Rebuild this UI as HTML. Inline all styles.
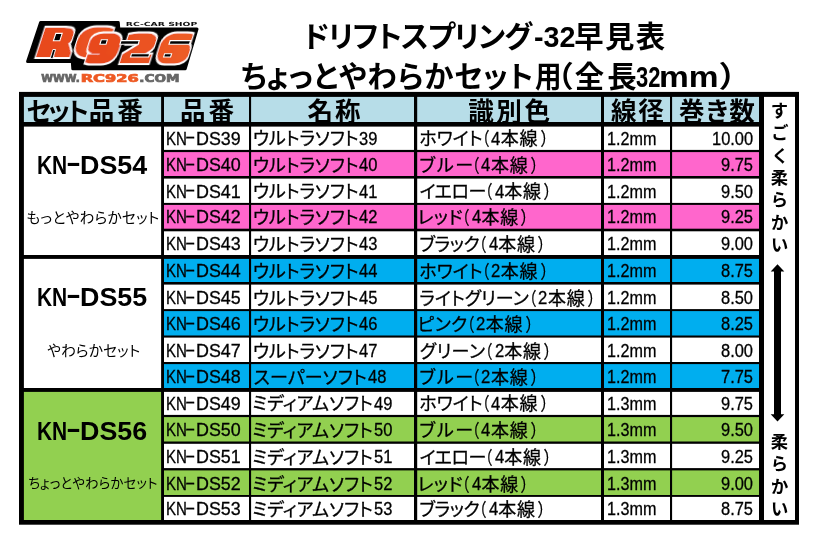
<!DOCTYPE html>
<html lang="ja"><head><meta charset="utf-8"><title>ドリフトスプリング-32早見表</title>
<style>
html,body{margin:0;padding:0;background:#fff;}
body{width:816px;height:542px;position:relative;overflow:hidden;font-family:"Liberation Sans","Noto Sans CJK JP",sans-serif;color:#000;font-feature-settings:"palt";}
.b{position:absolute;}
.t{position:absolute;white-space:nowrap;transform-origin:0 0;}
.h{font-weight:700;font-size:25.6px;line-height:30px;}
.c{font-size:18px;line-height:24px;-webkit-text-stroke:0.3px #000;}
.sn{font-weight:700;font-size:25.5px;line-height:30px;}
.ss{font-size:14.67px;line-height:18px;}
.s3{font-size:13.33px;line-height:18px;}
.sd{font-size:17.3px;line-height:22px;font-weight:700;}
.ti{font-weight:700;font-size:29.4px;line-height:40px;}
#tx{position:absolute;left:0;top:0;width:816px;height:542px;will-change:transform;}
</style></head><body>
<svg class="b" style="left:0;top:0" width="816" height="542" viewBox="0 0 816 542">
<rect x="19" y="91.9" width="780.00" height="432.80" fill="#000"/>
<rect x="23.9" y="96.9" width="137.20" height="25.10" fill="#b7dde8"/>
<rect x="164" y="96.9" width="85.00" height="25.10" fill="#b7dde8"/>
<rect x="251.1" y="96.9" width="162.90" height="25.10" fill="#b7dde8"/>
<rect x="417.2" y="96.9" width="183.80" height="25.10" fill="#b7dde8"/>
<rect x="604" y="96.9" width="66.00" height="25.10" fill="#b7dde8"/>
<rect x="672.1" y="96.9" width="86.90" height="25.10" fill="#b7dde8"/>
<rect x="764" y="96.9" width="31.00" height="423.10" fill="#ffffff"/>
<rect x="23.9" y="126.6" width="137.20" height="128.40" fill="#ffffff"/>
<rect x="23.9" y="258.9" width="137.20" height="129.10" fill="#ffffff"/>
<rect x="23.9" y="391.9" width="137.20" height="128.10" fill="#92d050"/>
<rect x="164" y="126.6" width="85.00" height="23.30" fill="#ffffff"/>
<rect x="251.1" y="126.6" width="162.90" height="23.30" fill="#ffffff"/>
<rect x="417.2" y="126.6" width="183.80" height="23.30" fill="#ffffff"/>
<rect x="604" y="126.6" width="66.00" height="23.30" fill="#ffffff"/>
<rect x="672.1" y="126.6" width="86.90" height="23.30" fill="#ffffff"/>
<rect x="164" y="152.1" width="85.00" height="23.90" fill="#ff66cc"/>
<rect x="251.1" y="152.1" width="162.90" height="23.90" fill="#ff66cc"/>
<rect x="417.2" y="152.1" width="183.80" height="23.90" fill="#ff66cc"/>
<rect x="604" y="152.1" width="66.00" height="23.90" fill="#ff66cc"/>
<rect x="672.1" y="152.1" width="86.90" height="23.90" fill="#ff66cc"/>
<rect x="164" y="178.6" width="85.00" height="24.30" fill="#ffffff"/>
<rect x="251.1" y="178.6" width="162.90" height="24.30" fill="#ffffff"/>
<rect x="417.2" y="178.6" width="183.80" height="24.30" fill="#ffffff"/>
<rect x="604" y="178.6" width="66.00" height="24.30" fill="#ffffff"/>
<rect x="672.1" y="178.6" width="86.90" height="24.30" fill="#ffffff"/>
<rect x="164" y="204.9" width="85.00" height="23.80" fill="#ff66cc"/>
<rect x="251.1" y="204.9" width="162.90" height="23.80" fill="#ff66cc"/>
<rect x="417.2" y="204.9" width="183.80" height="23.80" fill="#ff66cc"/>
<rect x="604" y="204.9" width="66.00" height="23.80" fill="#ff66cc"/>
<rect x="672.1" y="204.9" width="86.90" height="23.80" fill="#ff66cc"/>
<rect x="164" y="231.3" width="85.00" height="23.70" fill="#ffffff"/>
<rect x="251.1" y="231.3" width="162.90" height="23.70" fill="#ffffff"/>
<rect x="417.2" y="231.3" width="183.80" height="23.70" fill="#ffffff"/>
<rect x="604" y="231.3" width="66.00" height="23.70" fill="#ffffff"/>
<rect x="672.1" y="231.3" width="86.90" height="23.70" fill="#ffffff"/>
<rect x="164" y="258.9" width="85.00" height="23.10" fill="#00aeef"/>
<rect x="251.1" y="258.9" width="162.90" height="23.10" fill="#00aeef"/>
<rect x="417.2" y="258.9" width="183.80" height="23.10" fill="#00aeef"/>
<rect x="604" y="258.9" width="66.00" height="23.10" fill="#00aeef"/>
<rect x="672.1" y="258.9" width="86.90" height="23.10" fill="#00aeef"/>
<rect x="164" y="284.6" width="85.00" height="24.50" fill="#ffffff"/>
<rect x="251.1" y="284.6" width="162.90" height="24.50" fill="#ffffff"/>
<rect x="417.2" y="284.6" width="183.80" height="24.50" fill="#ffffff"/>
<rect x="604" y="284.6" width="66.00" height="24.50" fill="#ffffff"/>
<rect x="672.1" y="284.6" width="86.90" height="24.50" fill="#ffffff"/>
<rect x="164" y="311.1" width="85.00" height="24.40" fill="#00aeef"/>
<rect x="251.1" y="311.1" width="162.90" height="24.40" fill="#00aeef"/>
<rect x="417.2" y="311.1" width="183.80" height="24.40" fill="#00aeef"/>
<rect x="604" y="311.1" width="66.00" height="24.40" fill="#00aeef"/>
<rect x="672.1" y="311.1" width="86.90" height="24.40" fill="#00aeef"/>
<rect x="164" y="337.6" width="85.00" height="24.40" fill="#ffffff"/>
<rect x="251.1" y="337.6" width="162.90" height="24.40" fill="#ffffff"/>
<rect x="417.2" y="337.6" width="183.80" height="24.40" fill="#ffffff"/>
<rect x="604" y="337.6" width="66.00" height="24.40" fill="#ffffff"/>
<rect x="672.1" y="337.6" width="86.90" height="24.40" fill="#ffffff"/>
<rect x="164" y="364.1" width="85.00" height="23.90" fill="#00aeef"/>
<rect x="251.1" y="364.1" width="162.90" height="23.90" fill="#00aeef"/>
<rect x="417.2" y="364.1" width="183.80" height="23.90" fill="#00aeef"/>
<rect x="604" y="364.1" width="66.00" height="23.90" fill="#00aeef"/>
<rect x="672.1" y="364.1" width="86.90" height="23.90" fill="#00aeef"/>
<rect x="164" y="391.9" width="85.00" height="23.00" fill="#ffffff"/>
<rect x="251.1" y="391.9" width="162.90" height="23.00" fill="#ffffff"/>
<rect x="417.2" y="391.9" width="183.80" height="23.00" fill="#ffffff"/>
<rect x="604" y="391.9" width="66.00" height="23.00" fill="#ffffff"/>
<rect x="672.1" y="391.9" width="86.90" height="23.00" fill="#ffffff"/>
<rect x="164" y="417.1" width="85.00" height="24.40" fill="#92d050"/>
<rect x="251.1" y="417.1" width="162.90" height="24.40" fill="#92d050"/>
<rect x="417.2" y="417.1" width="183.80" height="24.40" fill="#92d050"/>
<rect x="604" y="417.1" width="66.00" height="24.40" fill="#92d050"/>
<rect x="672.1" y="417.1" width="86.90" height="24.40" fill="#92d050"/>
<rect x="164" y="443.8" width="85.00" height="24.30" fill="#ffffff"/>
<rect x="251.1" y="443.8" width="162.90" height="24.30" fill="#ffffff"/>
<rect x="417.2" y="443.8" width="183.80" height="24.30" fill="#ffffff"/>
<rect x="604" y="443.8" width="66.00" height="24.30" fill="#ffffff"/>
<rect x="672.1" y="443.8" width="86.90" height="24.30" fill="#ffffff"/>
<rect x="164" y="470.4" width="85.00" height="24.60" fill="#92d050"/>
<rect x="251.1" y="470.4" width="162.90" height="24.60" fill="#92d050"/>
<rect x="417.2" y="470.4" width="183.80" height="24.60" fill="#92d050"/>
<rect x="604" y="470.4" width="66.00" height="24.60" fill="#92d050"/>
<rect x="672.1" y="470.4" width="86.90" height="24.60" fill="#92d050"/>
<rect x="164" y="496.9" width="85.00" height="23.10" fill="#ffffff"/>
<rect x="251.1" y="496.9" width="162.90" height="23.10" fill="#ffffff"/>
<rect x="417.2" y="496.9" width="183.80" height="23.10" fill="#ffffff"/>
<rect x="604" y="496.9" width="66.00" height="23.10" fill="#ffffff"/>
<rect x="672.1" y="496.9" width="86.90" height="23.10" fill="#ffffff"/>
<path d="M777.5 264.3 L784.3 271.6 L781 271.6 L781 414.2 L784.3 414.2 L777.5 421.4 L770.7 414.2 L774 414.2 L774 271.6 L770.7 271.6 Z" fill="#000"/>
</svg>
<div id="tx">
<svg class="b" style="left:20px;top:14px" width="190" height="76" viewBox="20 14 190 76">
<defs>
<linearGradient id="og" gradientUnits="userSpaceOnUse" x1="35" y1="62" x2="190" y2="28">
<stop offset="0" stop-color="#e84a1c"/><stop offset="0.5" stop-color="#ee5f28"/><stop offset="1" stop-color="#f7a662"/>
</linearGradient>
<filter id="fat" x="-10%" y="-20%" width="120%" height="140%">
<feMorphology in="SourceGraphic" operator="dilate" radius="3.2 2.2" result="f"/>
<feMorphology in="SourceAlpha" operator="dilate" radius="4.4 3.4" result="o"/>
<feFlood flood-color="#fff" result="w"/>
<feComposite in="w" in2="o" operator="in" result="ow"/>
<feMerge><feMergeNode in="ow"/><feMergeNode in="f"/></feMerge>
</filter>
</defs>
<path d="M40.6 22.5 L118.3 22.5 L118.8 29 L197 29 L185.2 68.8 L72.8 68.8 L72.3 61.5 L27.6 61.5 Z" fill="#000" stroke="#000" stroke-width="3" stroke-linejoin="round"/>
<text x="125.8" y="25.7" font-family="'DejaVu Sans',sans-serif" font-weight="700" font-size="5.6" textLength="71.5" lengthAdjust="spacingAndGlyphs" fill="#111">RC-CAR SHOP</text>
<g font-family="'DejaVu Sans',sans-serif" font-weight="700" font-size="36" fill="url(#og)"><g transform="translate(36.6,55.2) skewX(-18) scale(1.11,1)" filter="url(#fat)"><text x="0" y="0" letter-spacing="6.5">RC</text></g><g transform="translate(85.3,61.3) skewX(-18) scale(1.135,1)" filter="url(#fat)"><text x="0" y="0" letter-spacing="6.2">926</text></g></g>
<g fill="#000" stroke="#fff" stroke-width="1.1" stroke-linejoin="miter"><polygon points="55.8,33.4 62.2,33.4 59.8,40.8 53.4,40.8"/><polygon points="101.3,39.8 107.4,39.8 106.0,44.3 99.9,44.3"/><polygon points="121.1,40.6 139.3,40.6 138.1,44.3 119.9,44.3"/><polygon points="131.5,53.7 149.7,53.7 148.7,57.0 130.5,57.0"/><polygon points="170.2,40.6 190.6,40.6 189.4,44.3 169.0,44.3"/><polygon points="164.6,53.7 171.6,53.7 170.6,57.0 163.6,57.0"/><polygon points="52.9,49.5 55.6,49.5 52.9,58.4 50.2,58.4" stroke-width="0.9"/></g>
<g font-family="'DejaVu Sans',sans-serif" font-weight="700" font-size="9.8" stroke-width="0.7" stroke-linejoin="miter" lengthAdjust="spacingAndGlyphs"><text x="41.3" y="82.2" textLength="38.5" lengthAdjust="spacingAndGlyphs" fill="#666" stroke="#666">WWW.</text><text x="80.7" y="82.2" textLength="58" lengthAdjust="spacingAndGlyphs" fill="#ee5a24" stroke="#ee5a24">RC926</text><text x="139.3" y="82.2" textLength="40.2" lengthAdjust="spacingAndGlyphs" fill="#666" stroke="#666">.COM</text></g>
</svg>

<span class="t h" style="left:26.35px;top:96.62px;letter-spacing:-2.47px;">セット</span><span class="t h" style="left:88.65px;top:96.62px;letter-spacing:3.05px;">品番</span>
<span class="t h" style="left:179.95px;top:96.62px;letter-spacing:2.85px;">品番</span>
<span class="t h" style="left:307.45px;top:96.62px;letter-spacing:1.90px;">名称</span>
<span class="t h" style="left:468.25px;top:96.62px;letter-spacing:2.52px;">識別色</span>
<span class="t h" style="left:610.90px;top:96.62px;letter-spacing:1.65px;">線径</span>
<span class="t h" style="left:679.05px;top:96.62px;letter-spacing:1.30px;">巻き数</span>
<span class="t c" style="left:165.66px;top:126.65px;transform:scale(0.836,1.000);">KN</span><span class="t c" style="left:185.20px;top:125.45px;transform:scale(1.733,1.000);">-</span><span class="t c" style="left:195.76px;top:126.65px;transform:scale(0.993,1.000);">DS39</span>
<span class="t c" style="left:252.75px;top:127.45px;letter-spacing:-0.06px;">ウルトラソフト</span><span class="t c" style="left:359.34px;top:126.65px;transform:scale(0.917,1.000);">39</span>
<span class="t c" style="left:419.30px;top:127.45px;">ホワイト</span><span class="t c" style="left:481.76px;top:127.45px;transform:scale(0.760,1.000);">（</span><span class="t c" style="left:491.17px;top:126.65px;transform:scale(0.926,1.000);">4</span><span class="t c" style="left:500.80px;top:127.45px;letter-spacing:0.65px;">本線</span><span class="t c" style="left:540.50px;top:127.45px;transform:scale(0.840,1.000);">）</span>
<span class="t c" style="left:606.88px;top:126.65px;transform:scale(0.897,1.000);">1.2mm</span>
<span class="t c" style="left:711.76px;top:126.65px;transform:scale(0.913,1.000);">10.00</span>
<span class="t c" style="left:165.66px;top:152.75px;transform:scale(0.836,1.000);">KN</span><span class="t c" style="left:185.20px;top:151.55px;transform:scale(1.733,1.000);">-</span><span class="t c" style="left:195.76px;top:152.75px;transform:scale(0.993,1.000);">DS40</span>
<span class="t c" style="left:252.75px;top:153.55px;letter-spacing:-0.06px;">ウルトラソフト</span><span class="t c" style="left:359.34px;top:152.75px;transform:scale(0.917,1.000);">40</span>
<span class="t c" style="left:419.30px;top:153.55px;letter-spacing:1.78px;">ブルー</span><span class="t c" style="left:472.06px;top:153.55px;transform:scale(0.760,1.000);">（</span><span class="t c" style="left:481.47px;top:152.75px;transform:scale(0.926,1.000);">4</span><span class="t c" style="left:491.10px;top:153.55px;letter-spacing:0.65px;">本線</span><span class="t c" style="left:530.80px;top:153.55px;transform:scale(0.840,1.000);">）</span>
<span class="t c" style="left:606.88px;top:152.75px;transform:scale(0.897,1.000);">1.2mm</span>
<span class="t c" style="left:720.89px;top:152.75px;transform:scale(0.913,1.000);">9.75</span>
<span class="t c" style="left:165.66px;top:179.65px;transform:scale(0.836,1.000);">KN</span><span class="t c" style="left:185.20px;top:178.45px;transform:scale(1.733,1.000);">-</span><span class="t c" style="left:195.76px;top:179.65px;transform:scale(0.993,1.000);">DS41</span>
<span class="t c" style="left:252.75px;top:180.45px;letter-spacing:-0.06px;">ウルトラソフト</span><span class="t c" style="left:359.34px;top:179.65px;transform:scale(0.917,1.000);">41</span>
<span class="t c" style="left:419.55px;top:180.45px;letter-spacing:-0.50px;">イエロー</span><span class="t c" style="left:485.26px;top:180.45px;transform:scale(0.760,1.000);">（</span><span class="t c" style="left:494.67px;top:179.65px;transform:scale(0.926,1.000);">4</span><span class="t c" style="left:504.30px;top:180.45px;letter-spacing:0.65px;">本線</span><span class="t c" style="left:544.00px;top:180.45px;transform:scale(0.840,1.000);">）</span>
<span class="t c" style="left:606.88px;top:179.65px;transform:scale(0.897,1.000);">1.2mm</span>
<span class="t c" style="left:720.89px;top:179.65px;transform:scale(0.913,1.000);">9.50</span>
<span class="t c" style="left:165.66px;top:205.45px;transform:scale(0.836,1.000);">KN</span><span class="t c" style="left:185.20px;top:204.25px;transform:scale(1.733,1.000);">-</span><span class="t c" style="left:195.76px;top:205.45px;transform:scale(0.993,1.000);">DS42</span>
<span class="t c" style="left:252.75px;top:206.25px;letter-spacing:-0.06px;">ウルトラソフト</span><span class="t c" style="left:359.34px;top:205.45px;transform:scale(0.917,1.000);">42</span>
<span class="t c" style="left:417.55px;top:206.25px;letter-spacing:0.35px;">レッド</span><span class="t c" style="left:462.46px;top:206.25px;transform:scale(0.760,1.000);">（</span><span class="t c" style="left:471.87px;top:205.45px;transform:scale(0.926,1.000);">4</span><span class="t c" style="left:481.50px;top:206.25px;letter-spacing:0.65px;">本線</span><span class="t c" style="left:521.20px;top:206.25px;transform:scale(0.840,1.000);">）</span>
<span class="t c" style="left:606.88px;top:205.45px;transform:scale(0.897,1.000);">1.2mm</span>
<span class="t c" style="left:720.89px;top:205.45px;transform:scale(0.913,1.000);">9.25</span>
<span class="t c" style="left:165.66px;top:231.75px;transform:scale(0.836,1.000);">KN</span><span class="t c" style="left:185.20px;top:230.55px;transform:scale(1.733,1.000);">-</span><span class="t c" style="left:195.76px;top:231.75px;transform:scale(0.993,1.000);">DS43</span>
<span class="t c" style="left:252.75px;top:232.55px;letter-spacing:-0.06px;">ウルトラソフト</span><span class="t c" style="left:359.34px;top:231.75px;transform:scale(0.917,1.000);">43</span>
<span class="t c" style="left:419.30px;top:232.55px;letter-spacing:-0.42px;">ブラック</span><span class="t c" style="left:479.26px;top:232.55px;transform:scale(0.760,1.000);">（</span><span class="t c" style="left:488.67px;top:231.75px;transform:scale(0.926,1.000);">4</span><span class="t c" style="left:498.30px;top:232.55px;letter-spacing:0.65px;">本線</span><span class="t c" style="left:538.00px;top:232.55px;transform:scale(0.840,1.000);">）</span>
<span class="t c" style="left:606.88px;top:231.75px;transform:scale(0.897,1.000);">1.2mm</span>
<span class="t c" style="left:720.89px;top:231.75px;transform:scale(0.913,1.000);">9.00</span>
<span class="t c" style="left:165.66px;top:258.75px;transform:scale(0.836,1.000);">KN</span><span class="t c" style="left:185.20px;top:257.55px;transform:scale(1.733,1.000);">-</span><span class="t c" style="left:195.76px;top:258.75px;transform:scale(0.993,1.000);">DS44</span>
<span class="t c" style="left:252.75px;top:259.55px;letter-spacing:-0.06px;">ウルトラソフト</span><span class="t c" style="left:359.34px;top:258.75px;transform:scale(0.917,1.000);">44</span>
<span class="t c" style="left:419.30px;top:259.55px;">ホワイト</span><span class="t c" style="left:481.76px;top:259.55px;transform:scale(0.760,1.000);">（</span><span class="t c" style="left:491.17px;top:258.75px;transform:scale(0.926,1.000);">2</span><span class="t c" style="left:500.80px;top:259.55px;letter-spacing:0.65px;">本線</span><span class="t c" style="left:540.50px;top:259.55px;transform:scale(0.840,1.000);">）</span>
<span class="t c" style="left:606.88px;top:258.75px;transform:scale(0.897,1.000);">1.2mm</span>
<span class="t c" style="left:720.89px;top:258.75px;transform:scale(0.913,1.000);">8.75</span>
<span class="t c" style="left:165.66px;top:285.85px;transform:scale(0.836,1.000);">KN</span><span class="t c" style="left:185.20px;top:284.65px;transform:scale(1.733,1.000);">-</span><span class="t c" style="left:195.76px;top:285.85px;transform:scale(0.993,1.000);">DS45</span>
<span class="t c" style="left:252.75px;top:286.65px;letter-spacing:-0.06px;">ウルトラソフト</span><span class="t c" style="left:359.34px;top:285.85px;transform:scale(0.917,1.000);">45</span>
<span class="t c" style="left:419.30px;top:286.65px;letter-spacing:0.05px;">ライトグリーン</span><span class="t c" style="left:529.06px;top:286.65px;transform:scale(0.760,1.000);">（</span><span class="t c" style="left:538.47px;top:285.85px;transform:scale(0.926,1.000);">2</span><span class="t c" style="left:548.10px;top:286.65px;letter-spacing:0.65px;">本線</span><span class="t c" style="left:587.80px;top:286.65px;transform:scale(0.840,1.000);">）</span>
<span class="t c" style="left:606.88px;top:285.85px;transform:scale(0.897,1.000);">1.2mm</span>
<span class="t c" style="left:720.89px;top:285.85px;transform:scale(0.913,1.000);">8.50</span>
<span class="t c" style="left:165.66px;top:312.25px;transform:scale(0.836,1.000);">KN</span><span class="t c" style="left:185.20px;top:311.05px;transform:scale(1.733,1.000);">-</span><span class="t c" style="left:195.76px;top:312.25px;transform:scale(0.993,1.000);">DS46</span>
<span class="t c" style="left:252.75px;top:313.05px;letter-spacing:-0.06px;">ウルトラソフト</span><span class="t c" style="left:359.34px;top:312.25px;transform:scale(0.917,1.000);">46</span>
<span class="t c" style="left:417.55px;top:313.05px;letter-spacing:0.38px;">ピンク</span><span class="t c" style="left:466.76px;top:313.05px;transform:scale(0.760,1.000);">（</span><span class="t c" style="left:476.17px;top:312.25px;transform:scale(0.926,1.000);">2</span><span class="t c" style="left:485.80px;top:313.05px;letter-spacing:0.65px;">本線</span><span class="t c" style="left:525.50px;top:313.05px;transform:scale(0.840,1.000);">）</span>
<span class="t c" style="left:606.88px;top:312.25px;transform:scale(0.897,1.000);">1.2mm</span>
<span class="t c" style="left:720.89px;top:312.25px;transform:scale(0.913,1.000);">8.25</span>
<span class="t c" style="left:165.66px;top:338.75px;transform:scale(0.836,1.000);">KN</span><span class="t c" style="left:185.20px;top:337.55px;transform:scale(1.733,1.000);">-</span><span class="t c" style="left:195.76px;top:338.75px;transform:scale(0.993,1.000);">DS47</span>
<span class="t c" style="left:252.75px;top:339.55px;letter-spacing:-0.06px;">ウルトラソフト</span><span class="t c" style="left:359.34px;top:338.75px;transform:scale(0.917,1.000);">47</span>
<span class="t c" style="left:419.80px;top:339.55px;letter-spacing:0.42px;">グリーン</span><span class="t c" style="left:485.26px;top:339.55px;transform:scale(0.760,1.000);">（</span><span class="t c" style="left:494.67px;top:338.75px;transform:scale(0.926,1.000);">2</span><span class="t c" style="left:504.30px;top:339.55px;letter-spacing:0.65px;">本線</span><span class="t c" style="left:544.00px;top:339.55px;transform:scale(0.840,1.000);">）</span>
<span class="t c" style="left:606.88px;top:338.75px;transform:scale(0.897,1.000);">1.2mm</span>
<span class="t c" style="left:720.89px;top:338.75px;transform:scale(0.913,1.000);">8.00</span>
<span class="t c" style="left:165.66px;top:364.75px;transform:scale(0.836,1.000);">KN</span><span class="t c" style="left:185.20px;top:363.55px;transform:scale(1.733,1.000);">-</span><span class="t c" style="left:195.76px;top:364.75px;transform:scale(0.993,1.000);">DS48</span>
<span class="t c" style="left:253.75px;top:365.55px;letter-spacing:0.14px;">スーパーソフト</span><span class="t c" style="left:367.54px;top:364.75px;transform:scale(0.917,1.000);">48</span>
<span class="t c" style="left:419.30px;top:365.55px;letter-spacing:1.78px;">ブルー</span><span class="t c" style="left:472.06px;top:365.55px;transform:scale(0.760,1.000);">（</span><span class="t c" style="left:481.47px;top:364.75px;transform:scale(0.926,1.000);">2</span><span class="t c" style="left:491.10px;top:365.55px;letter-spacing:0.65px;">本線</span><span class="t c" style="left:530.80px;top:365.55px;transform:scale(0.840,1.000);">）</span>
<span class="t c" style="left:606.88px;top:364.75px;transform:scale(0.897,1.000);">1.2mm</span>
<span class="t c" style="left:720.89px;top:364.75px;transform:scale(0.913,1.000);">7.75</span>
<span class="t c" style="left:165.66px;top:391.65px;transform:scale(0.836,1.000);">KN</span><span class="t c" style="left:185.20px;top:390.45px;transform:scale(1.733,1.000);">-</span><span class="t c" style="left:195.76px;top:391.65px;transform:scale(0.993,1.000);">DS49</span>
<span class="t c" style="left:252.20px;top:392.45px;letter-spacing:0.04px;">ミディアムソフト</span><span class="t c" style="left:373.64px;top:391.65px;transform:scale(0.917,1.000);">49</span>
<span class="t c" style="left:419.30px;top:392.45px;">ホワイト</span><span class="t c" style="left:481.76px;top:392.45px;transform:scale(0.760,1.000);">（</span><span class="t c" style="left:491.17px;top:391.65px;transform:scale(0.926,1.000);">4</span><span class="t c" style="left:500.80px;top:392.45px;letter-spacing:0.65px;">本線</span><span class="t c" style="left:540.50px;top:392.45px;transform:scale(0.840,1.000);">）</span>
<span class="t c" style="left:606.88px;top:391.65px;transform:scale(0.897,1.000);">1.3mm</span>
<span class="t c" style="left:720.89px;top:391.65px;transform:scale(0.913,1.000);">9.75</span>
<span class="t c" style="left:165.66px;top:418.25px;transform:scale(0.836,1.000);">KN</span><span class="t c" style="left:185.20px;top:417.05px;transform:scale(1.733,1.000);">-</span><span class="t c" style="left:195.76px;top:418.25px;transform:scale(0.993,1.000);">DS50</span>
<span class="t c" style="left:252.20px;top:419.05px;letter-spacing:0.04px;">ミディアムソフト</span><span class="t c" style="left:373.64px;top:418.25px;transform:scale(0.917,1.000);">50</span>
<span class="t c" style="left:419.30px;top:419.05px;letter-spacing:1.78px;">ブルー</span><span class="t c" style="left:472.06px;top:419.05px;transform:scale(0.760,1.000);">（</span><span class="t c" style="left:481.47px;top:418.25px;transform:scale(0.926,1.000);">4</span><span class="t c" style="left:491.10px;top:419.05px;letter-spacing:0.65px;">本線</span><span class="t c" style="left:530.80px;top:419.05px;transform:scale(0.840,1.000);">）</span>
<span class="t c" style="left:606.88px;top:418.25px;transform:scale(0.897,1.000);">1.3mm</span>
<span class="t c" style="left:720.89px;top:418.25px;transform:scale(0.913,1.000);">9.50</span>
<span class="t c" style="left:165.66px;top:444.85px;transform:scale(0.836,1.000);">KN</span><span class="t c" style="left:185.20px;top:443.65px;transform:scale(1.733,1.000);">-</span><span class="t c" style="left:195.76px;top:444.85px;transform:scale(0.993,1.000);">DS51</span>
<span class="t c" style="left:252.20px;top:445.65px;letter-spacing:0.04px;">ミディアムソフト</span><span class="t c" style="left:373.64px;top:444.85px;transform:scale(0.917,1.000);">51</span>
<span class="t c" style="left:419.55px;top:445.65px;letter-spacing:-0.50px;">イエロー</span><span class="t c" style="left:485.26px;top:445.65px;transform:scale(0.760,1.000);">（</span><span class="t c" style="left:494.67px;top:444.85px;transform:scale(0.926,1.000);">4</span><span class="t c" style="left:504.30px;top:445.65px;letter-spacing:0.65px;">本線</span><span class="t c" style="left:544.00px;top:445.65px;transform:scale(0.840,1.000);">）</span>
<span class="t c" style="left:606.88px;top:444.85px;transform:scale(0.897,1.000);">1.3mm</span>
<span class="t c" style="left:720.89px;top:444.85px;transform:scale(0.913,1.000);">9.25</span>
<span class="t c" style="left:165.66px;top:471.75px;transform:scale(0.836,1.000);">KN</span><span class="t c" style="left:185.20px;top:470.55px;transform:scale(1.733,1.000);">-</span><span class="t c" style="left:195.76px;top:471.75px;transform:scale(0.993,1.000);">DS52</span>
<span class="t c" style="left:252.20px;top:472.55px;letter-spacing:0.04px;">ミディアムソフト</span><span class="t c" style="left:373.64px;top:471.75px;transform:scale(0.917,1.000);">52</span>
<span class="t c" style="left:417.55px;top:472.55px;letter-spacing:0.35px;">レッド</span><span class="t c" style="left:462.46px;top:472.55px;transform:scale(0.760,1.000);">（</span><span class="t c" style="left:471.87px;top:471.75px;transform:scale(0.926,1.000);">4</span><span class="t c" style="left:481.50px;top:472.55px;letter-spacing:0.65px;">本線</span><span class="t c" style="left:521.20px;top:472.55px;transform:scale(0.840,1.000);">）</span>
<span class="t c" style="left:606.88px;top:471.75px;transform:scale(0.897,1.000);">1.3mm</span>
<span class="t c" style="left:720.89px;top:471.75px;transform:scale(0.913,1.000);">9.00</span>
<span class="t c" style="left:165.66px;top:496.75px;transform:scale(0.836,1.000);">KN</span><span class="t c" style="left:185.20px;top:495.55px;transform:scale(1.733,1.000);">-</span><span class="t c" style="left:195.76px;top:496.75px;transform:scale(0.993,1.000);">DS53</span>
<span class="t c" style="left:252.20px;top:497.55px;letter-spacing:0.04px;">ミディアムソフト</span><span class="t c" style="left:373.64px;top:496.75px;transform:scale(0.917,1.000);">53</span>
<span class="t c" style="left:419.30px;top:497.55px;letter-spacing:-0.42px;">ブラック</span><span class="t c" style="left:479.26px;top:497.55px;transform:scale(0.760,1.000);">（</span><span class="t c" style="left:488.67px;top:496.75px;transform:scale(0.926,1.000);">4</span><span class="t c" style="left:498.30px;top:497.55px;letter-spacing:0.65px;">本線</span><span class="t c" style="left:538.00px;top:497.55px;transform:scale(0.840,1.000);">）</span>
<span class="t c" style="left:606.88px;top:496.75px;transform:scale(0.897,1.000);">1.3mm</span>
<span class="t c" style="left:720.89px;top:496.75px;transform:scale(0.913,1.000);">8.75</span>
<span class="t sn" style="left:37.06px;top:150.15px;transform:scale(0.821,1.000);">KN</span><span class="t sn" style="left:65.73px;top:147.15px;transform:scale(1.769,1.000);">-</span><span class="t sn" style="left:80.16px;top:150.15px;transform:scale(1.053,1.000);">DS54</span>
<span class="t ss" style="left:26.45px;top:208.97px;letter-spacing:0.23px;">もっとやわらかセット</span>
<span class="t sn" style="left:37.06px;top:282.45px;transform:scale(0.821,1.000);">KN</span><span class="t sn" style="left:65.73px;top:279.45px;transform:scale(1.769,1.000);">-</span><span class="t sn" style="left:80.16px;top:282.45px;transform:scale(1.053,1.000);">DS55</span>
<span class="t ss" style="left:47.20px;top:341.57px;letter-spacing:0.13px;">やわらかセット</span>
<span class="t sn" style="left:37.06px;top:415.75px;transform:scale(0.821,1.000);">KN</span><span class="t sn" style="left:65.73px;top:412.75px;transform:scale(1.769,1.000);">-</span><span class="t sn" style="left:80.16px;top:415.75px;transform:scale(1.053,1.000);">DS56</span>
<span class="t s3" style="left:28.20px;top:475.18px;letter-spacing:0.20px;">ちょっとやわらかセット</span>
<span class="t sd" style="left:764px;width:31px;text-align:center;top:99.9px">す</span><span class="t sd" style="left:764px;width:31px;text-align:center;top:122.3px">ご</span><span class="t sd" style="left:764px;width:31px;text-align:center;top:144.7px">く</span><span class="t sd" style="left:764px;width:31px;text-align:center;top:167.1px">柔</span><span class="t sd" style="left:764px;width:31px;text-align:center;top:189.4px">ら</span><span class="t sd" style="left:764px;width:31px;text-align:center;top:211.8px">か</span><span class="t sd" style="left:764px;width:31px;text-align:center;top:234.2px">い</span>
<span class="t sd" style="left:764px;width:31px;text-align:center;top:431.0px">柔</span><span class="t sd" style="left:764px;width:31px;text-align:center;top:453.4px">ら</span><span class="t sd" style="left:764px;width:31px;text-align:center;top:475.9px">か</span><span class="t sd" style="left:764px;width:31px;text-align:center;top:498.4px">い</span>
<span class="t ti" style="left:303.25px;top:17.12px;letter-spacing:-0.94px;">ドリフトスプリング</span><span class="t ti" style="left:533.78px;top:17.12px;transform:scale(0.975,1.000);">-32</span><span class="t ti" style="left:574.15px;top:17.12px;letter-spacing:1.38px;">早見表</span>
<span class="t ti" style="left:241.15px;top:57.12px;letter-spacing:0.76px;">ちょっとやわらかセット</span><span class="t ti" style="left:535.12px;top:57.12px;transform:scale(0.901,1.000);">用</span><span class="t ti" style="left:557.22px;top:57.12px;transform:scale(1.047,1.000);">（</span><span class="t ti" style="left:574.85px;top:57.12px;letter-spacing:2.90px;">全長</span><span class="t ti" style="left:635.64px;top:57.12px;transform:scale(0.748,1.000);">32</span><span class="t ti" style="left:658.92px;top:57.12px;transform:scale(1.140,1.000);">mm</span><span class="t ti" style="left:719.60px;top:57.12px;transform:scale(1.129,1.000);">）</span>
</div>
</body></html>
